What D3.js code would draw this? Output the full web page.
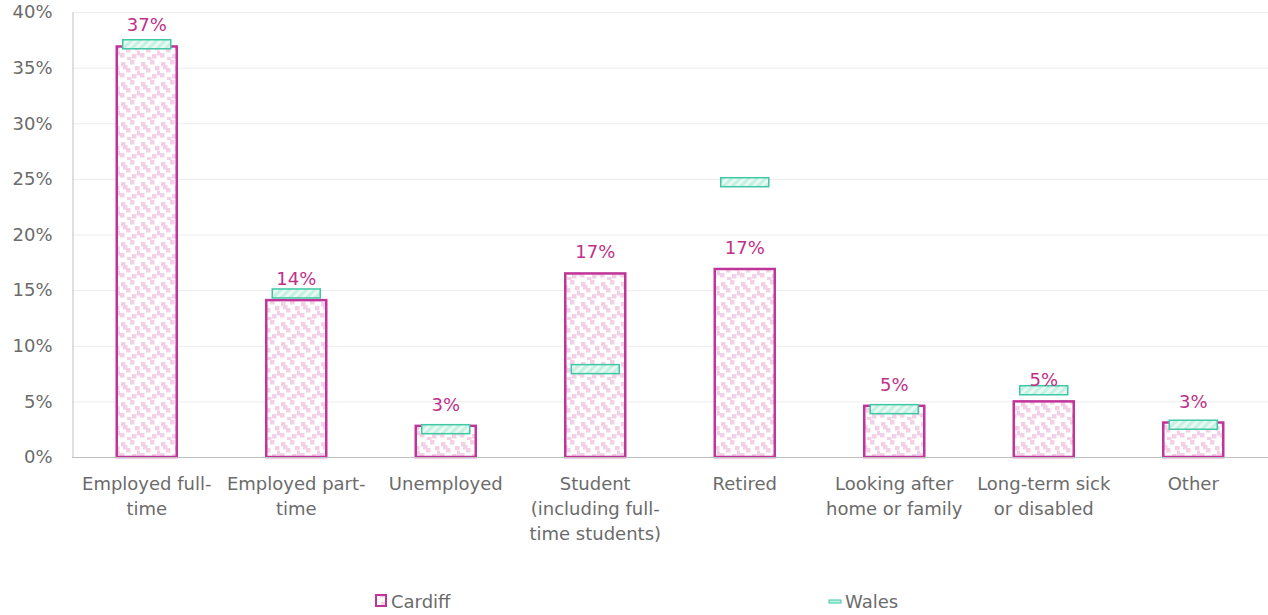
<!DOCTYPE html>
<html><head><meta charset="utf-8">
<script src="https://cdn.jsdelivr.net/npm/d3@7"></script>
<style>body{margin:0;background:#fff;} svg{display:block;font-family:"DejaVu Sans",sans-serif;}</style>
</head><body>
<svg id="c" width="1268" height="615"></svg>
<script>
const categories = [
  ["Employed full-","time"],
  ["Employed part-","time"],
  ["Unemployed"],
  ["Student","(including full-","time students)"],
  ["Retired"],
  ["Looking after","home or family"],
  ["Long-term sick","or disabled"],
  ["Other"]
];
const cardiff = [36.9, 14.1, 2.8, 16.5, 16.9, 4.6, 5.0, 3.1];
const wales = [37.1, 14.7, 2.5, 7.9, 24.7, 4.3, 6.0, 2.9];
const cardiffLabels = ["37%","14%","3%","17%","17%","5%","5%","3%"];
const yTicks = [0,5,10,15,20,25,30,35,40];

(function(){
const svg = d3.select("#c");
const pL = 72, pR = 1268, pT = 12, pB = 457;
const fs = "18px";
const x = d3.scaleBand().domain(d3.range(categories.length)).range([pL, pR]).paddingInner(0).paddingOuter(0);
const y = d3.scaleLinear().domain([0,40]).range([pB, pT]);

const defs = svg.append("defs");
const pat = defs.append("pattern").attr("id","dots").attr("patternUnits","userSpaceOnUse").attr("width",20).attr("height",20);
pat.append("rect").attr("width",20).attr("height",20).attr("fill","#fff");
[[1,2],[10,0],[15,6],[6,8],[0,13],[12,14],[7,17],[17,11],[3,5]].forEach(p=>{
  pat.append("rect").attr("x",p[0]).attr("y",p[1]).attr("width",4.5).attr("height",4.5).attr("fill","#f4d0e6");
});
const hat = defs.append("pattern").attr("id","hatch").attr("patternUnits","userSpaceOnUse").attr("width",6).attr("height",6).attr("patternTransform","rotate(45)");
hat.append("rect").attr("width",6).attr("height",6).attr("fill","#e8f9f3");
hat.append("rect").attr("width",3).attr("height",6).attr("fill","#c4f1e2");

svg.append("g").selectAll("line").data(yTicks.filter(d=>d>0)).join("line")
  .attr("x1",pL).attr("x2",pR).attr("y1",d=>y(d)+0.5).attr("y2",d=>y(d)+0.5)
  .attr("stroke","#ececec").attr("stroke-width",1);

const yAxis = svg.append("g").attr("transform",`translate(${pL+0.5},0)`)
  .call(d3.axisLeft(y).tickValues(yTicks).tickFormat(d=>d+"%").tickSize(0).tickPadding(20));
yAxis.select(".domain").attr("stroke","#c0c0c0");
yAxis.selectAll("text").attr("fill","#6b6b6b").style("font-size",fs).style("font-family","DejaVu Sans, sans-serif");

const bw = 60;
svg.append("g").selectAll("rect").data(cardiff).join("rect")
  .attr("x",(d,i)=>x(i)+x.bandwidth()/2-bw/2).attr("y",d=>y(d))
  .attr("width",bw).attr("height",d=>pB-y(d))
  .attr("fill","url(#dots)").attr("stroke","#c0359a").attr("stroke-width",2.5);

svg.append("line").attr("x1",pL).attr("x2",pR).attr("y1",pB+0.5).attr("y2",pB+0.5).attr("stroke","#c0c0c0");

const mw = 48, mh = 9;
svg.append("g").selectAll("rect").data(wales).join("rect")
  .attr("x",(d,i)=>x(i)+x.bandwidth()/2-mw/2).attr("y",d=>y(d)-mh/2)
  .attr("width",mw).attr("height",mh)
  .attr("fill","url(#hatch)").attr("stroke","#3ec8a3").attr("stroke-width",1.5);

svg.append("g").selectAll("text").data(cardiff).join("text")
  .attr("x",(d,i)=>x(i)+x.bandwidth()/2).attr("y",d=>y(d)-15)
  .attr("text-anchor","middle").attr("fill","#c03088").style("font-size",fs)
  .text((d,i)=>cardiffLabels[i]);

const cl = svg.append("g");
categories.forEach((lines,i)=>{
  const t = cl.append("text").attr("x",x(i)+x.bandwidth()/2).attr("y",490)
    .attr("text-anchor","middle").attr("fill","#6b6b6b").style("font-size",fs);
  lines.forEach((l,j)=>t.append("tspan").attr("x",x(i)+x.bandwidth()/2).attr("dy",j?25:0).text(l));
});

const lg = svg.append("g");
lg.append("rect").attr("x",376).attr("y",595).attr("width",10).attr("height",11).attr("fill","url(#dots)").attr("stroke","#c0359a").attr("stroke-width",2);
lg.append("text").attr("x",391).attr("y",608).attr("fill","#6b6b6b").style("font-size",fs).text("Cardiff");
lg.append("rect").attr("x",829).attr("y",600).attr("width",12).attr("height",3).attr("fill","#c4f1e2").attr("stroke","#3ec8a3").attr("stroke-width",1);
lg.append("text").attr("x",845).attr("y",608).attr("fill","#6b6b6b").style("font-size",fs).text("Wales");
})();
</script>
</body></html>
